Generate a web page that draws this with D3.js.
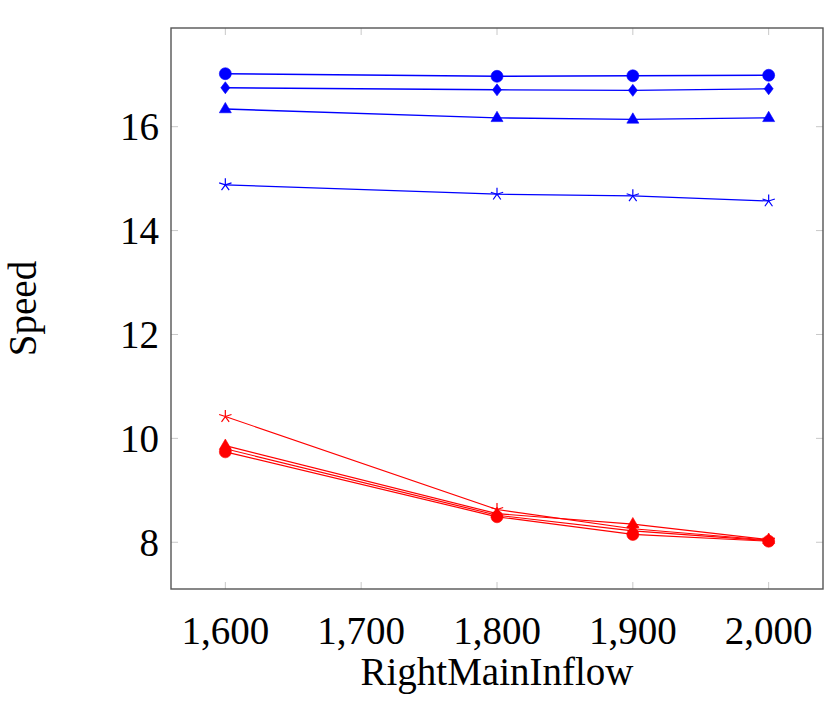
<!DOCTYPE html>
<html>
<head>
<meta charset="utf-8">
<script src="https://cdn.jsdelivr.net/npm/d3@7"></script>
<style>
  body { margin: 0; background: #fff; }
  text { font-family: "Liberation Serif", "DejaVu Serif", serif; fill: #000; }
</style>
</head>
<body>
<div id="chart-area"></div>
<script>
// x values (RightMainInflow)
const inflow = [1600, 1800, 1900, 2000];

// blue series
const blueCircle   = [17.02, 16.97, 16.98, 16.99];
const blueDiamond  = [16.75, 16.71, 16.70, 16.73];
const blueTriangle = [16.34, 16.17, 16.14, 16.17];
const blueStar     = [14.88, 14.70, 14.67, 14.57];

// red series
const redCircle    = [9.74, 8.49, 8.15, 8.02];
const redDiamond   = [9.80, 8.52, 8.22, 8.03];
const redTriangle  = [9.86, 8.55, 8.35, 8.05];
const redStar      = [10.42, 8.63, 8.26, 8.04];

// ticks
const xTicks = [1600, 1700, 1800, 1900, 2000];
const yTicks = [8, 10, 12, 14, 16];

const series = [
  { values: blueCircle,   color: "#0000ff", mark: "circle",   lw: 1.4 },
  { values: blueDiamond,  color: "#0000ff", mark: "diamond",  lw: 1.4 },
  { values: blueTriangle, color: "#0000ff", mark: "triangle", lw: 1.4 },
  { values: blueStar,     color: "#0000ff", mark: "star",     lw: 1.2 },
  { values: redCircle,    color: "#ff0000", mark: "circle",   lw: 1.2 },
  { values: redDiamond,   color: "#ff0000", mark: "diamond",  lw: 1.2 },
  { values: redTriangle,  color: "#ff0000", mark: "triangle", lw: 1.2 },
  { values: redStar,      color: "#ff0000", mark: "star",     lw: 1.1 }
];

// margins
const margin = { left: 171, right: 8, top: 28, bottom: 114 };
const width = 831 - margin.left - margin.right;
const height = 703 - margin.top - margin.bottom;

const svg = d3.select("#chart-area")
  .append("svg")
    .attr("width", 831)
    .attr("height", 703);

const g = svg.append("g")
  .attr("transform", "translate(" + margin.left + "," + margin.top + ")");

const x = d3.scaleLinear()
  .domain([1560, 2040])
  .range([0, width]);

const y = d3.scaleLinear()
  .domain([7.1, 17.9])
  .range([height, 0]);

// tick marks (inside, on all four sides)
const tickLen = 7;
xTicks.forEach(function(t) {
  g.append("line").attr("x1", x(t)).attr("x2", x(t))
    .attr("y1", height).attr("y2", height - tickLen)
    .attr("stroke", "#c8c8c8").attr("stroke-width", 1);
  g.append("line").attr("x1", x(t)).attr("x2", x(t))
    .attr("y1", 0).attr("y2", tickLen)
    .attr("stroke", "#c8c8c8").attr("stroke-width", 1);
});
yTicks.forEach(function(t) {
  g.append("line").attr("x1", 0).attr("x2", tickLen)
    .attr("y1", y(t)).attr("y2", y(t))
    .attr("stroke", "#c8c8c8").attr("stroke-width", 1);
  g.append("line").attr("x1", width).attr("x2", width - tickLen)
    .attr("y1", y(t)).attr("y2", y(t))
    .attr("stroke", "#c8c8c8").attr("stroke-width", 1);
});

// tick labels
g.selectAll(".xlab").data(xTicks).enter().append("text")
  .attr("class", "xlab")
  .attr("x", function(d) { return x(d); })
  .attr("y", height + 55)
  .attr("text-anchor", "middle")
  .attr("font-size", "39px")
  .text(d3.format(","));

g.selectAll(".ylab").data(yTicks).enter().append("text")
  .attr("class", "ylab")
  .attr("x", -12)
  .attr("y", function(d) { return y(d); })
  .attr("dy", "0.34em")
  .attr("text-anchor", "end")
  .attr("font-size", "39px")
  .text(function(d) { return d; });

// axis labels
svg.append("text")
  .attr("x", margin.left + width / 2)
  .attr("y", 685)
  .attr("text-anchor", "middle")
  .attr("font-size", "39px")
  .text("RightMainInflow");

svg.append("text")
  .attr("transform", "translate(36," + (margin.top + height / 2) + ") rotate(-90)")
  .attr("text-anchor", "middle")
  .attr("font-size", "39px")
  .text("Speed");

// marker shapes
function markPath(type, r) {
  if (type === "circle") {
    return d3.symbol().type(d3.symbolCircle).size(Math.PI * r * r)();
  }
  if (type === "diamond") {
    return "M0," + (-r) + "L" + (r * 0.75) + ",0L0," + r + "L" + (-r * 0.75) + ",0Z";
  }
  if (type === "triangle") {
    return "M0," + (-r * 1.1) + "L" + (r * 1.0) + "," + (r * 0.62) + "L" + (-r * 1.0) + "," + (r * 0.62) + "Z";
  }
  // star: five spokes
  let p = "";
  for (let k = 0; k < 5; k++) {
    const a = -Math.PI / 2 + k * 2 * Math.PI / 5;
    p += "M0,0L" + (r * Math.cos(a)).toFixed(2) + "," + (r * Math.sin(a)).toFixed(2);
  }
  return p;
}

const line = d3.line()
  .x(function(d) { return x(d[0]); })
  .y(function(d) { return y(d[1]); });

series.forEach(function(s) {
  const pts = inflow.map(function(v, i) { return [v, s.values[i]]; });
  g.append("path")
    .datum(pts)
    .attr("d", line)
    .attr("fill", "none")
    .attr("stroke", s.color)
    .attr("stroke-width", s.lw);

  g.selectAll(null).data(pts).enter().append("path")
    .attr("transform", function(d) { return "translate(" + x(d[0]) + "," + y(d[1]) + ")"; })
    .attr("d", markPath(s.mark, s.mark === "star" ? 6.5 : 6))
    .attr("fill", s.mark === "star" ? "none" : s.color)
    .attr("stroke", s.color)
    .attr("stroke-width", s.mark === "star" ? 1.2 : 0.6);
});

// axis frame
g.append("rect")
  .attr("width", width)
  .attr("height", height)
  .attr("fill", "none")
  .attr("stroke", "#555")
  .attr("stroke-width", 1.4);
</script>
</body>
</html>
